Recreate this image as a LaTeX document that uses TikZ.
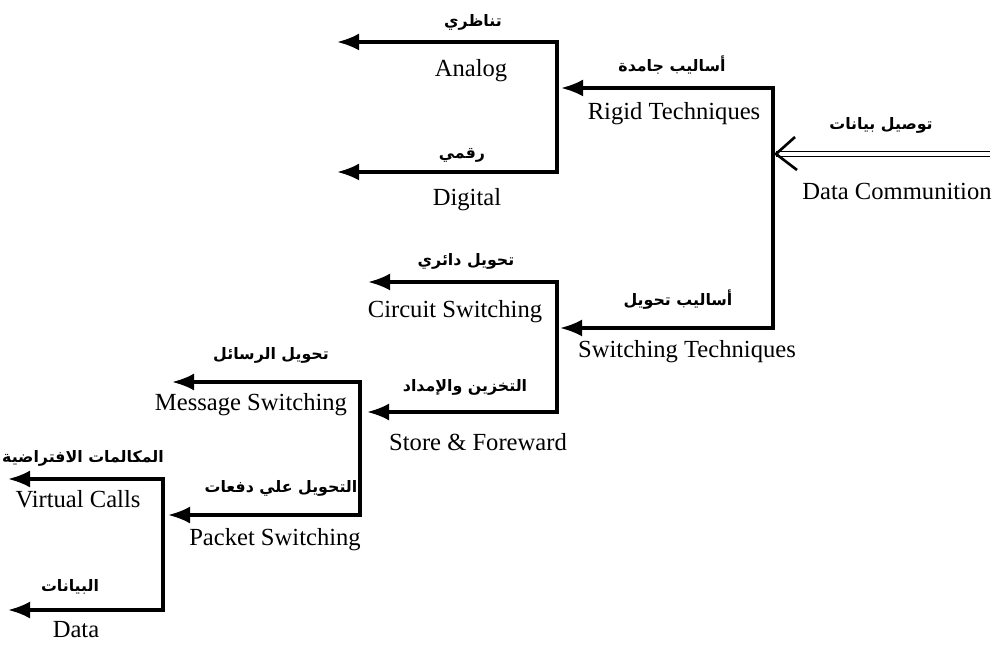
\documentclass[tikz,border=0pt]{standalone}
\usepackage{fontspec}
\setmainfont{Liberation Serif}
\newfontfamily\arabicfont[Script=Arabic]{DejaVu Sans}
\TeXXeTstate=1
\usetikzlibrary{arrows.meta}

\begin{document}
\begin{tikzpicture}[
  branch/.style={line width=1.9pt, line join=miter,
    {Latex[length=0.44cm,width=0.34cm]}-{Latex[length=0.44cm,width=0.34cm]}},
  en/.style={font=\fontsize{14}{16}\selectfont, inner sep=0pt},
  ar/.style={font=\arabicfont\bfseries\fontsize{9}{11}\selectfont, inner sep=0pt}]
  \useasboundingbox (0,0) rectangle (20.10,-13.00);

  % Coordinates
  \coordinate (AnaTip) at (6.74,-0.84);
  \coordinate (AnaCorner) at (11.14,-0.84);
  \coordinate (DigCorner) at (11.14,-3.44);
  \coordinate (DigTip) at (6.74,-3.44);
  \coordinate (RigTip) at (11.22,-1.76);
  \coordinate (RigCorner) at (15.46,-1.76);
  \coordinate (SwiCorner) at (15.46,-6.56);
  \coordinate (SwiTip) at (11.20,-6.56);
  \coordinate (CirTip) at (7.36,-5.64);
  \coordinate (CirCorner) at (11.14,-5.64);
  \coordinate (StoCorner) at (11.14,-8.24);
  \coordinate (StoTip) at (7.34,-8.24);
  \coordinate (MsgTip) at (3.44,-7.64);
  \coordinate (MsgCorner) at (7.20,-7.64);
  \coordinate (PktCorner) at (7.20,-10.30);
  \coordinate (PktTip) at (3.36,-10.30);
  \coordinate (VirTip) at (0.16,-9.58);
  \coordinate (VirCorner) at (3.26,-9.58);
  \coordinate (DatCorner) at (3.26,-12.20);
  \coordinate (DatTip) at (0.16,-12.20);
  \coordinate (DCStart) at (19.80,-3.08);
  \coordinate (DCTip) at (15.52,-3.08);
  \coordinate (DCBarbUp) at (15.90,-2.74);
  \coordinate (DCBarbDown) at (15.94,-3.40);

  % Drawing
  \draw[branch] (AnaTip) -- (AnaCorner) -- (DigCorner) -- (DigTip);
  \draw[branch] (RigTip) -- (RigCorner) -- (SwiCorner) -- (SwiTip);
  \draw[branch] (CirTip) -- (CirCorner) -- (StoCorner) -- (StoTip);
  \draw[branch] (MsgTip) -- (MsgCorner) -- (PktCorner) -- (PktTip);
  \draw[branch] (VirTip) -- (VirCorner) -- (DatCorner) -- (DatTip);
  \draw[double, double distance=0.07cm, line width=0.8pt] (DCStart) -- (DCTip);
  \draw[line width=1.5pt] (DCBarbUp) -- (DCTip) -- (DCBarbDown);

  % Labels
  \node[ar] (AnaAr) at (9.46,-0.44) {\beginR تناظري\endR};
  \node[en] (Ana) at (9.42,-1.42) {Analog};
  \node[ar] (DigAr) at (9.24,-3.10) {\beginR رقمي\endR};
  \node[en] (Dig) at (9.34,-4.00) {Digital};
  \node[ar] (RigAr) at (13.44,-1.30) {\beginR أساليب جامدة\endR};
  \node[en] (Rig) at (13.48,-2.28) {Rigid Techniques};
  \node[ar] (DCAr) at (17.62,-2.50) {\beginR توصيل بيانات\endR};
  \node[en] (DC) at (17.94,-3.82) {Data Communition};
  \node[ar] (CirAr) at (9.32,-5.22) {\beginR تحويل دائري\endR};
  \node[en] (Cir) at (9.10,-6.24) {Circuit Switching};
  \node[ar] (SwiAr) at (13.56,-6.00) {\beginR أساليب تحويل\endR};
  \node[en] (Swi) at (13.74,-7.04) {Switching Techniques};
  \node[ar] (MsgAr) at (5.42,-7.10) {\beginR تحويل الرسائل\endR};
  \node[en] (Msg) at (5.02,-8.10) {Message Switching};
  \node[ar] (StoAr) at (9.30,-7.74) {\beginR التخزين والإمداد\endR};
  \node[en] (Sto) at (9.56,-8.84) {Store \& Foreward};
  \node[ar] (VirAr) at (1.66,-9.16) {\beginR المكالمات الافتراضية\endR};
  \node[en] (Vir) at (1.56,-9.98) {Virtual Calls};
  \node[ar] (PktAr) at (5.62,-9.76) {\beginR التحويل علي دفعات\endR};
  \node[en] (Pkt) at (5.50,-10.80) {Packet Switching};
  \node[ar] (DatAr) at (1.40,-11.74) {\beginR البيانات\endR};
  \node[en] (Dat) at (1.52,-12.60) {Data};
\end{tikzpicture}
\end{document}
